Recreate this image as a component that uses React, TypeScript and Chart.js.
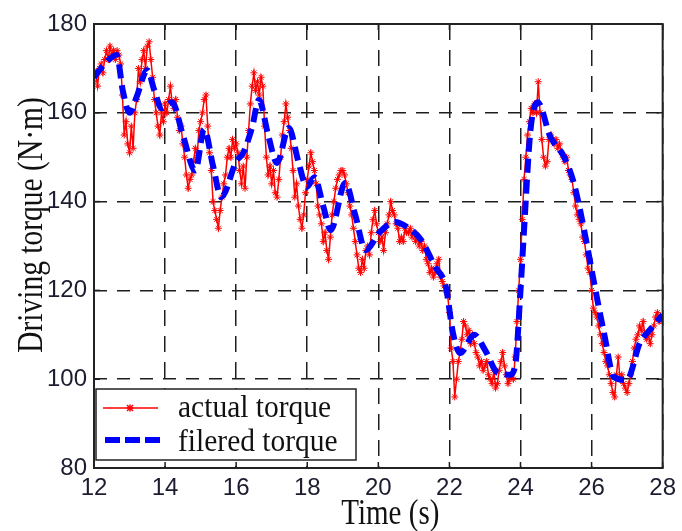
import React, { useEffect, useRef } from "react";
import { Chart, registerables } from "chart.js";

Chart.register(...registerables);

// ---------- data ----------
const X_TICKS = [12, 14, 16, 18, 20, 22, 24, 26, 28];
const Y_TICKS = [80, 100, 120, 140, 160, 180];
const X_TITLE = "Time (s)";
const Y_TITLE = "Driving torque (N·m)";
const LEGEND_LABELS = ["actual torque", "filered torque"];

// actual torque sampled every 0.05 s from 12.00 s
const SAMPLE_START = 12;
const SAMPLE_STEP = 0.05;
const actualTorque = [
  167, 169, 166, 170, 171, 169, 172, 174, 172, 175, 173, 174, 172, 174, 173, 171, 164, 155, 158, 153,
  151, 157, 152, 160, 163, 170, 167, 172, 174, 170, 175, 176, 172, 168, 163, 160, 157, 155, 160, 158,
  162, 160, 163, 166, 162, 161, 163, 159, 156, 157, 153, 150, 146, 143, 145, 146, 149, 152, 150, 156,
  158, 160, 163, 164, 157, 151, 147, 140, 138, 136, 134, 138, 141, 144, 146, 150, 152, 150, 154, 152,
  153, 151, 147, 144, 148, 143, 150, 156, 162, 166, 169, 165, 167, 164, 168, 166, 157, 150, 146, 148,
  144, 147, 142, 141, 145, 150, 155, 158, 162, 159, 156, 152, 147, 141, 144, 139, 136, 134, 137, 142,
  145, 148, 151, 149, 147, 144, 139, 137, 135, 131, 133, 129, 127, 132, 137, 140, 143, 145, 146, 147,
  147, 146, 144, 142, 139, 137, 134, 131, 128, 125, 124, 127, 125, 129, 130, 128, 133, 136, 138, 135,
  133, 131, 132, 129, 133, 135, 137, 140, 138, 137, 135, 134, 131, 132, 131, 134, 133, 133, 134, 132,
  133, 131, 132, 130, 131, 129, 130, 127, 126, 124, 125, 123, 124, 126, 127, 123, 122, 121, 120, 119,
  115, 107, 104, 96, 100, 104, 106, 109, 113, 112, 110, 111, 108, 110, 108, 106, 105, 103, 104, 102,
  103, 104, 101, 100, 99, 102, 98, 99, 102, 104, 106, 103, 101, 99, 100, 101, 100, 105, 113, 120,
  127, 136, 145, 150, 155, 158, 161, 160, 162, 160, 167, 160, 154, 150, 148, 149, 154, 155, 154, 153,
  154, 152, 153, 151, 150, 149, 150, 147, 146, 145, 142, 139, 137, 136, 135, 132, 131, 128, 125, 124,
  120, 116, 115, 114, 112, 110, 108, 106, 104, 103, 101, 99, 97, 96, 101, 105, 100, 101, 99, 98,
  97, 99, 101, 104, 107, 109, 110, 112, 111, 113, 110, 109, 110, 108, 110, 112, 114, 115, 113, 114,
  113,
];

// filtered torque (key points of the smooth curve)
const filteredTime = [
  12.0, 12.3, 12.64, 12.81, 13.0, 13.2, 13.5, 13.7, 13.9, 14.2, 14.5, 14.85, 15.1, 15.35, 15.58,
  16.0, 16.2, 16.45, 16.64, 16.9, 17.15, 17.48, 17.75, 17.99, 18.2, 18.45, 18.66, 19.07, 19.35,
  19.64, 20.05, 20.47, 20.84, 21.2, 21.6, 21.9, 22.1, 22.3, 22.7, 23.0, 23.36, 23.7, 23.85, 24.0,
  24.1, 24.28, 24.48, 24.84, 25.23, 25.5, 25.79, 26.07, 26.35, 26.63, 26.99, 27.36, 27.64, 28.0,
];
const filteredTorque = [
  168, 171, 173, 165, 160, 163.6, 169.6, 165, 161, 162.4, 155, 147, 156.3, 148, 141,
  149, 151, 156.8, 162.9, 155, 148.7, 156.6, 149, 143.3, 145.5, 139, 133.6, 144.2, 137,
  129.1, 133.2, 135.4, 134.1, 131.4, 125.3, 120.8, 110.4, 105.9, 110, 106.6, 101.4, 101, 103, 120,
  133.6, 156, 162.4, 154.6, 150, 144.2, 133.6, 121.7, 110.4, 100.5, 99.8, 108.2, 111.1, 114.5,
];

const TICK_COLOR = "#1c1c30";
const GRID_COLOR = "#1e1e1e";
const SERIF = "'Liberation Serif', 'Times New Roman', serif";
const SANS = "'Liberation Sans', Arial, sans-serif";

const decorPlugin = {
  id: "decor",
  afterDraw(chart: any) {
    const ctx: CanvasRenderingContext2D = chart.ctx;
    const { left, right, top, bottom } = chart.chartArea;
    const xs = chart.scales.x;
    const ys = chart.scales.y;
    const seg = (x1: number, y1: number, x2: number, y2: number) => {
      ctx.beginPath();
      ctx.moveTo(x1, y1);
      ctx.lineTo(x2, y2);
      ctx.stroke();
    };
    ctx.save();
    ctx.setLineDash([]);
    // inner tick marks
    ctx.strokeStyle = GRID_COLOR;
    ctx.lineWidth = 1.5;
    X_TICKS.forEach((v) => {
      const px = xs.getPixelForValue(v);
      seg(px, bottom, px, bottom - 6);
      seg(px, top, px, top + 6);
    });
    Y_TICKS.forEach((v) => {
      const py = ys.getPixelForValue(v);
      seg(left, py, left + 6, py);
      seg(right, py, right - 6, py);
    });
    // frame
    ctx.lineWidth = 2;
    ctx.strokeStyle = "#222";
    ctx.strokeRect(left, top, right - left, bottom - top);

    // legend
    const lx = left + 2;
    const ly = bottom - 79;
    const lw = 260;
    const lh = 71;
    ctx.fillStyle = "#fff";
    ctx.fillRect(lx, ly, lw, lh);
    ctx.lineWidth = 1.5;
    ctx.strokeStyle = "#222";
    ctx.strokeRect(lx, ly, lw, lh);
    // row 1: red line with star
    const r1 = ly + 19;
    ctx.strokeStyle = "#ff0000";
    ctx.lineWidth = 1.5;
    seg(lx + 7, r1, lx + 62, r1);
    seg(lx + 31, r1 - 3, lx + 37, r1 + 3);
    seg(lx + 31, r1 + 3, lx + 37, r1 - 3);
    seg(lx + 34, r1 - 3.5, lx + 34, r1 + 3.5);
    seg(lx + 30.5, r1, lx + 37.5, r1);
    // row 2: blue dashed
    const r2 = ly + 51;
    ctx.strokeStyle = "#0000ff";
    ctx.lineWidth = 6;
    ctx.setLineDash([15, 5]);
    seg(lx + 9, r2, lx + 64, r2);
    ctx.setLineDash([]);

    const drawText = (text: string, x: number, y: number, size: number, sy: number, align: CanvasTextAlign, rot = 0) => {
      ctx.save();
      ctx.translate(x, y);
      if (rot) ctx.rotate(rot);
      ctx.scale(1, sy);
      ctx.font = `${size}px ${SERIF}`;
      ctx.fillStyle = "#111";
      ctx.textAlign = align;
      ctx.textBaseline = "alphabetic";
      ctx.fillText(text, 0, 0);
      ctx.restore();
    };
    drawText(LEGEND_LABELS[0], lx + 82, ly + 28, 29.5, 1.1, "left");
    drawText(LEGEND_LABELS[1], lx + 82, ly + 62, 29.5, 1.1, "left");

    // axis titles
    drawText(X_TITLE, (left + right) / 2 + 12, 524, 29, 1.2, "center");
    drawText(Y_TITLE, 42, (top + bottom) / 2 - 21, 29.5, 1.2, "center", -Math.PI / 2);
    ctx.restore();
  },
};

export default function App() {
  const canvasRef = useRef<HTMLCanvasElement | null>(null);

  useEffect(() => {
    document.body.style.margin = "0";
    const canvas = canvasRef.current;
    if (!canvas) return;
    const actualPoints = actualTorque.map((v, i) => ({
      x: +(SAMPLE_START + i * SAMPLE_STEP).toFixed(2),
      y: v,
    }));
    const filteredPoints = filteredTime.map((t, i) => ({ x: t, y: filteredTorque[i] }));

    const chart = new Chart(canvas, {
      type: "line",
      data: {
        datasets: [
          {
            label: LEGEND_LABELS[1],
            data: filteredPoints,
            borderColor: "#0000ff",
            borderWidth: 6,
            borderDash: [14, 7],
            pointRadius: 0,
            cubicInterpolationMode: "monotone",
            fill: false,
            order: 0,
          },
          {
            label: LEGEND_LABELS[0],
            data: actualPoints,
            borderColor: "#ff0000",
            borderWidth: 1.5,
            pointStyle: "star",
            pointRadius: 3.5,
            pointBorderColor: "#ff0000",
            pointBorderWidth: 1,
            tension: 0,
            fill: false,
            order: 1,
          },
        ],
      },
      options: {
        responsive: false,
        animation: false,
        events: [],
        layout: { padding: { left: 0, top: 24, right: 16, bottom: 0 } },
        plugins: {
          legend: { display: false },
          tooltip: { enabled: false },
          title: { display: false },
        },
        scales: {
          x: {
            type: "linear",
            min: 12,
            max: 28,
            afterFit: (s: any) => {
              s.height = 63;
            },
            afterBuildTicks: (s: any) => {
              s.ticks = X_TICKS.map((v) => ({ value: v }));
            },
            ticks: {
              color: TICK_COLOR,
              font: { family: SANS, size: 24 },
              padding: 6,
              maxRotation: 0,
              autoSkip: false,
            },
            grid: { color: GRID_COLOR, lineWidth: 1.5, drawTicks: false },
            border: { display: false, dash: [16, 10] },
          },
          y: {
            type: "linear",
            min: 80,
            max: 180,
            afterFit: (s: any) => {
              s.width = 94;
            },
            afterBuildTicks: (s: any) => {
              s.ticks = Y_TICKS.map((v) => ({ value: v }));
            },
            ticks: {
              color: TICK_COLOR,
              font: { family: SANS, size: 24 },
              padding: 7,
              autoSkip: false,
            },
            grid: { color: GRID_COLOR, lineWidth: 1.5, drawTicks: false },
            border: { display: false, dash: [13, 10] },
          },
        },
      },
      plugins: [decorPlugin],
    });
    return () => chart.destroy();
  }, []);

  return (
    <div style={{ position: "absolute", left: 0, top: 0, width: 682, height: 531, background: "#fff" }}>
      <canvas ref={canvasRef} width={682} height={531} style={{ display: "block" }} />
    </div>
  );
}
